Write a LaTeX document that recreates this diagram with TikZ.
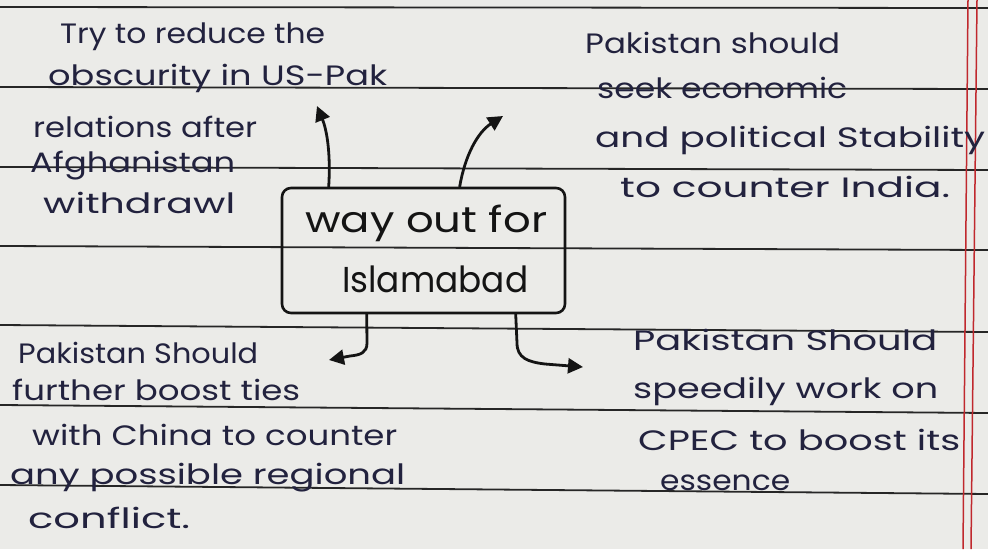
\documentclass[tikz,border=0pt]{standalone}
\usepackage{fontspec}
\usepackage{graphicx}
\usetikzlibrary{arrows.meta}

\newfontfamily\handfont{Poppins}

\definecolor{paper}{HTML}{EBEBE8}
\definecolor{ink}{HTML}{22223E}
\definecolor{pen}{HTML}{141414}
\definecolor{ruling}{HTML}{262626}
\definecolor{marginred}{HTML}{C0282D}

% stretch a line of text horizontally to a given width (in pt)
\newcommand\fitto[2]{\resizebox{#1pt}{\height}{#2}}

\tikzset{
  note/.style={anchor=base west, inner sep=0pt, text=ink,
    font=\handfont\fontsize{28}{34}\selectfont},
  hubtext/.style={anchor=base west, inner sep=0pt, text=pen,
    font=\handfont\fontsize{36}{42}\selectfont},
  hubbox/.style={draw=pen, line width=2.6pt, rounded corners=9pt,
    minimum width=283pt, minimum height=125pt, inner sep=0pt},
  arr/.style={draw=pen, line width=2.8pt, line cap=round,
    -{Triangle[length=15pt,width=15pt]}},
  ruleline/.style={draw=ruling, line width=1.8pt},
  marginline/.style={draw=marginred, line width=1.5pt}
}

\begin{document}
\begin{tikzpicture}[x=1pt,y=-1pt]
  \useasboundingbox (0,0) rectangle (988,549);
  \fill[paper] (0,0) rectangle (988,549);

  % ruled lines of the notebook page
  \foreach \a/\b in {7/8, 87/89, 167/170, 246/250, 325/332, 405/413, 485/494}
    \draw[ruleline] (0,\a) -- (988,\b);

  % double red margin on the right
  \draw[marginline] (968,0) -- (963,549);
  \draw[marginline] (977,0) -- (971,549);

  % central box
  \node[hubbox] (hub) at (423.5,250.5) {};
  \node[hubtext] (hubA) at (305,232) {\fitto{242}{way out for}};
  \node[hubtext] (hubB) at (342,292) {\fitto{186}{Islamabad}};

  % top-left note
  \node[note] (tl1) at (60,43)  {\fitto{265}{Try to reduce the}};
  \node[note] (tl2) at (48,85)  {\fitto{339}{obscurity in US-Pak}};
  \node[note] (tl3) at (33,137) {\fitto{224}{relations after}};
  \node[note] (tl4) at (30,172) {\fitto{205}{Afghanistan}};
  \node[note] (tl5) at (43,213) {\fitto{192}{withdrawl}};

  % top-right note
  \node[note] (tr1) at (585,53)  {\fitto{255}{Pakistan should}};
  \node[note] (tr2) at (597,98)  {\fitto{250}{seek economic}};
  \node[note] (tr3) at (595,147) {\fitto{390}{and political Stability}};
  \node[note] (tr4) at (620,197) {\fitto{330}{to counter India.}};

  % bottom-left note
  \node[note] (bl1) at (18,363) {\fitto{240}{Pakistan Should}};
  \node[note] (bl2) at (12,400) {\fitto{288}{further boost ties}};
  \node[note] (bl3) at (32,445) {\fitto{365}{with China to counter}};
  \node[note] (bl4) at (10,484) {\fitto{395}{any possible regional}};
  \node[note] (bl5) at (28,528) {\fitto{162}{conflict.}};

  % bottom-right note
  \node[note] (br1) at (633,350) {\fitto{304}{Pakistan Should}};
  \node[note] (br2) at (633,398) {\fitto{305}{speedily work on}};
  \node[note] (br3) at (638,450) {\fitto{322}{CPEC to boost its}};
  \node[note] (br4) at (660,490) {\fitto{130}{essence}};

  % arrow tips
  \coordinate (tipA) at (317,106);
  \coordinate (tipB) at (503,116);
  \coordinate (tipC) at (329,360);
  \coordinate (tipD) at (583,367);

  % arrows leaving the box
  \draw[arr] ([xshift=48pt]hub.north west) .. controls (331,150) and (326,128) .. (tipA);
  \draw[arr] ([xshift=179pt]hub.north west) .. controls (465,155) and (478,132) .. (tipB);
  \draw[arr] ([xshift=86pt]hub.south west) -- (367,343)
     .. controls (367,353) and (360,355) .. (350,356) -- (tipC);
  \draw[arr] ([xshift=235pt]hub.south west) -- (517,343)
     .. controls (517,358) and (528,362) .. (545,364) -- (tipD);
\end{tikzpicture}
\end{document}
